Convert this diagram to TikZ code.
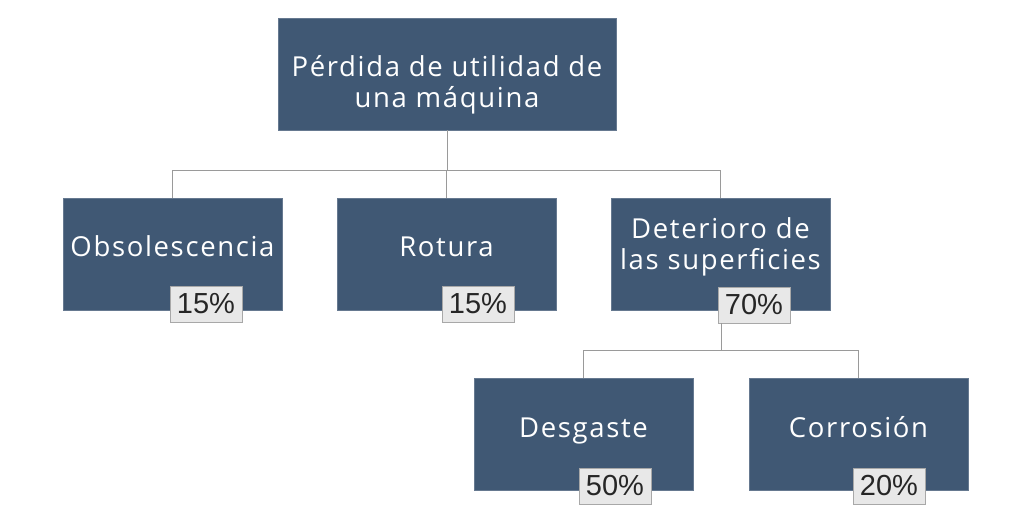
\documentclass[tikz,border=0pt]{standalone}
\usepackage{fontspec}
\setmainfont{Open Sans}[LetterSpace=6]
\newfontfamily\pctfont{Liberation Sans}
\usetikzlibrary{positioning}

\definecolor{boxblue}{HTML}{405874}
\definecolor{pctgray}{HTML}{E8E8E8}
\definecolor{pctline}{HTML}{A8A8A8}
\definecolor{linkgray}{HTML}{9A9A9A}

\tikzstyle{cbox}=[rectangle,fill=boxblue,draw=boxblue!80!white,line width=0.6pt,minimum width=219pt,minimum height=112pt,inner sep=0pt]
\tikzstyle{ctext}=[text=white,font=\fontsize{27.5}{31.5}\selectfont,align=center,inner sep=0pt]
\tikzstyle{pct}=[rectangle,fill=pctgray,draw=pctline,line width=0.8pt,minimum width=72pt,minimum height=36pt,inner sep=0pt,font=\pctfont\fontsize{29}{30}\selectfont,text=black!85]
\tikzstyle{link}=[draw=linkgray,line width=1pt]

\begin{document}
\begin{tikzpicture}[x=1pt,y=-1pt]

        \useasboundingbox[fill=white] (0,0) rectangle (1024,532);
        %
        \draw (447,74)   node[cbox,minimum width=338pt](top){};
        \draw (172.5,254) node[cbox](obs){};
        \draw (446.5,254) node[cbox](rot){};
        \draw (720.5,254) node[cbox](det){};
        \draw (583.5,434) node[cbox](des){};
        \draw (858.5,434) node[cbox](cor){};
        %
        \draw (447,85)    node[ctext](ttop){P\'erdida de utilidad de\\una m\'aquina};
        \draw (172.5,256) node[ctext,anchor=base](tobs){Obsolescencia};
        \draw (446.5,256) node[ctext,anchor=base](trot){Rotura};
        \draw (720.5,247) node[ctext](tdet){Deterioro de\\las superficies};
        \draw (583.5,437) node[ctext,anchor=base](tdes){Desgaste};
        \draw (858.5,437) node[ctext,anchor=base](tcor){Corrosi\'on};
        %
        \draw (206,304) node[pct](pobs){15\%};
        \draw (478,304) node[pct](prot){15\%};
        \draw (754,305) node[pct](pdet){70\%};
        \draw (615,486) node[pct](pdes){50\%};
        \draw (889,486) node[pct](pcor){20\%};
        %
        \coordinate (bus1) at (447,170);
        \coordinate (bus2) at (721,350);
        \path[link]
            (top.south) -- (bus1)
            (obs.north) |- (bus1)
            (rot.north) |- (bus1)
            (det.north) |- (bus1)
            (bus2 |- pdet.south) -- (bus2)
            (des.north) |- (bus2)
            (cor.north) |- (bus2)
        ;
      \end{tikzpicture}
\end{document}
